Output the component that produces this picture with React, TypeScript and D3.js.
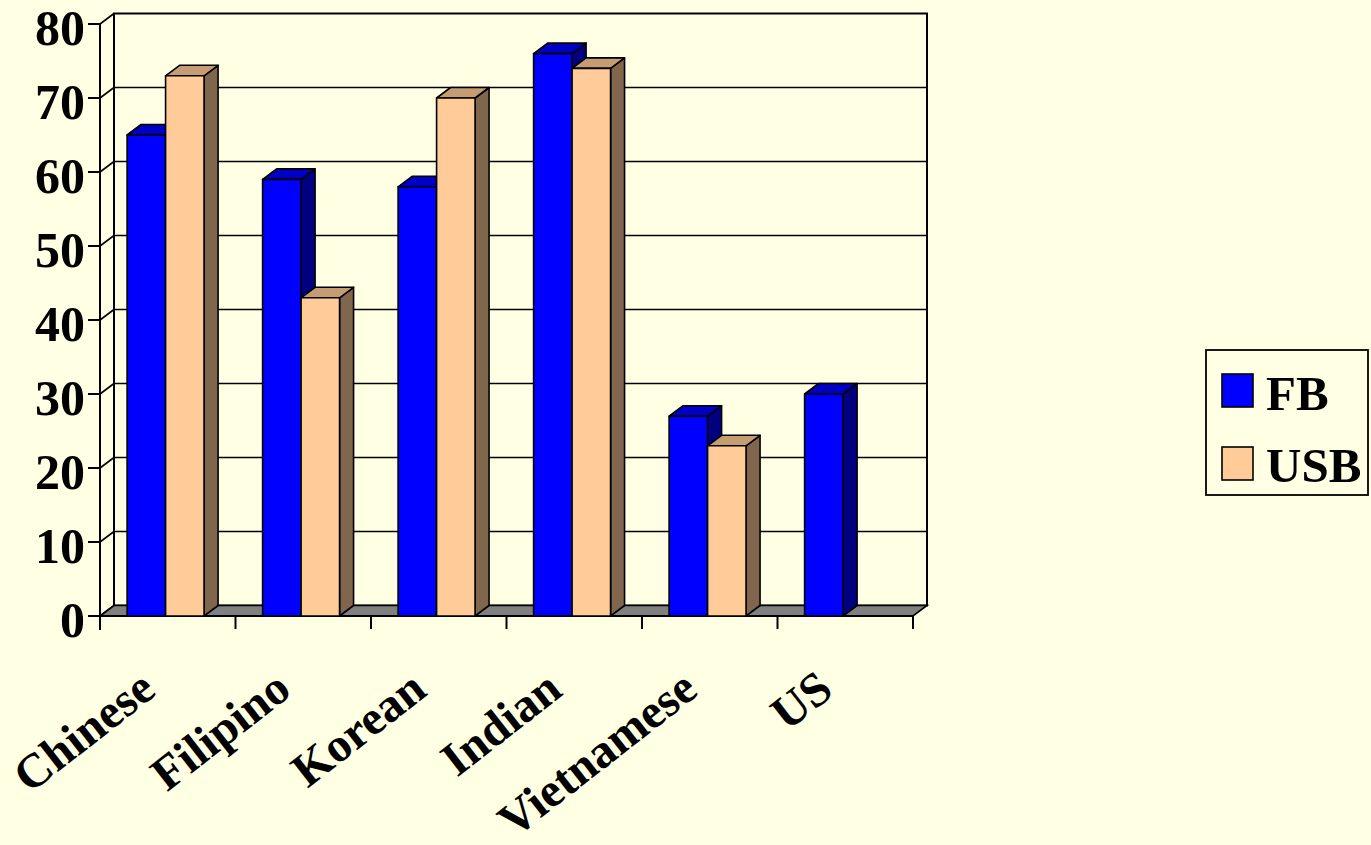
import React from "react";
import * as d3 from "d3";

const categories = ["Chinese", "Filipino", "Korean", "Indian", "Vietnamese", "US"];
const seriesNames = ["FB", "USB"];
const fbValues = [65, 59, 58, 76, 27, 30];
const usbValues: (number | null)[] = [73, 43, 70, 74, 23, null];
const yTicks = [0, 10, 20, 30, 40, 50, 60, 70, 80];

const W = 1371;
const H = 845;
const BG = "#FFFFE3";
const FONT = "'Liberation Serif', 'Times New Roman', serif";

// oblique depth offset of the 3D projection
const DX = 14;
const DY = -10.5;
const LABEL_ANGLE = -38;

const palette = {
  FB: { front: "#0000FF", top: "#0000C4", side: "#000080" },
  USB: { front: "#FFCC99", top: "#C69D72", side: "#80664C" },
};

export default function App() {
  const x = d3.scaleBand<string>().domain(categories).range([100, 913]).padding(0);
  const y = d3.scaleLinear().domain([0, 80]).range([616, 24]);
  const bw = x.bandwidth();
  const barW = bw * 0.284;
  const offset = bw * 0.2;
  const inner = d3.scaleBand<string>().domain(seriesNames).range([0, barW * 2]).padding(0);

  const x0 = x.range()[0];
  const x1 = x.range()[1];
  const y0 = y(0);
  const yTop = y(80);

  const pts = (p: [number, number][]) => p.map((d) => d.join(",")).join(" ");

  const bars: { key: string; s: "FB" | "USB"; v: number; cx: number }[] = [];
  categories.forEach((c, i) => {
    const vals = [fbValues[i], usbValues[i]];
    seriesNames.forEach((s, j) => {
      const v = vals[j];
      if (v == null) return;
      bars.push({ key: `${c}-${s}`, s: s as "FB" | "USB", v, cx: (x(c) as number) + offset + (inner(s) as number) });
    });
  });

  return (
    <svg width={W} height={H} style={{ position: "absolute", left: 0, top: 0, background: BG }}>
      <rect x={0} y={0} width={W} height={H} fill={BG} />

      {/* back wall */}
      <rect x={x0 + DX} y={yTop + DY} width={x1 - x0} height={y0 - yTop} fill={BG} stroke="#000" strokeWidth={2} />

      {/* gridlines on the back wall and the left side wall */}
      {yTicks.map((t) => (
        <g key={`g${t}`}>
          {t > 0 && t < 80 && (
            <line x1={x0 + DX} x2={x1 + DX} y1={y(t) + DY} y2={y(t) + DY} stroke="#000" strokeWidth={1.6} />
          )}
          <line x1={x0} x2={x0 + DX} y1={y(t)} y2={y(t) + DY} stroke="#000" strokeWidth={1.6} />
        </g>
      ))}

      {/* floor */}
      <polygon
        points={pts([
          [x0, y0],
          [x1, y0],
          [x1 + DX, y0 + DY],
          [x0 + DX, y0 + DY],
        ])}
        fill="#808080"
        stroke="#000"
        strokeWidth={1.6}
      />

      {/* value axis */}
      <line x1={x0} x2={x0} y1={yTop} y2={y0 + 14} stroke="#000" strokeWidth={2} />
      {yTicks.map((t) => (
        <g key={`t${t}`}>
          <line x1={x0 - 12} x2={x0} y1={y(t)} y2={y(t)} stroke="#000" strokeWidth={2} />
          <text
            x={85}
            y={y(t) + 20.5}
            textAnchor="end"
            fontFamily={FONT}
            fontWeight="bold"
            fontSize={50}
            fill="#000"
          >
            {t}
          </text>
        </g>
      ))}

      {/* category axis */}
      <line x1={x0} x2={x1} y1={y0} y2={y0} stroke="#000" strokeWidth={2.2} />
      {categories.map((c) => (
        <line key={`ct${c}`} x1={(x(c) as number) + bw} x2={(x(c) as number) + bw} y1={y0} y2={y0 + 13} stroke="#000" strokeWidth={2} />
      ))}

      {/* bars */}
      {bars.map((b) => {
        const col = palette[b.s];
        const top = y(b.v);
        const l = b.cx;
        const r = b.cx + barW;
        return (
          <g key={b.key} stroke="#000" strokeWidth={1.6} strokeLinejoin="round">
            <polygon
              points={pts([
                [r, top],
                [r + DX, top + DY],
                [r + DX, y0 + DY],
                [r, y0],
              ])}
              fill={col.side}
            />
            <polygon
              points={pts([
                [l, top],
                [r, top],
                [r + DX, top + DY],
                [l + DX, top + DY],
              ])}
              fill={col.top}
            />
            <rect x={l} y={top} width={barW} height={y0 - top} fill={col.front} />
          </g>
        );
      })}

      {/* category labels */}
      {categories.map((c) => {
        const cx = (x(c) as number) + bw / 2 - 10;
        const cy = 694;
        return (
          <text
            key={`l${c}`}
            transform={`translate(${cx},${cy}) rotate(${LABEL_ANGLE})`}
            textAnchor="end"
            fontFamily={FONT}
            fontWeight="bold"
            fontSize={48}
            fill="#000"
          >
            {c}
          </text>
        );
      })}

      {/* legend */}
      <rect x={1206} y={350} width={162} height={145} fill={BG} stroke="#000" strokeWidth={1.8} />
      {seriesNames.map((s, i) => (
        <g key={`lg${s}`}>
          <rect
            x={1222}
            y={374 + i * 73}
            width={31}
            height={33}
            fill={palette[s as "FB" | "USB"].front}
            stroke="#000"
            strokeWidth={1.6}
          />
          <text x={1266} y={410 + i * 72} fontFamily={FONT} fontWeight="bold" fontSize={49} fill="#000">
            {s}
          </text>
        </g>
      ))}
    </svg>
  );
}
